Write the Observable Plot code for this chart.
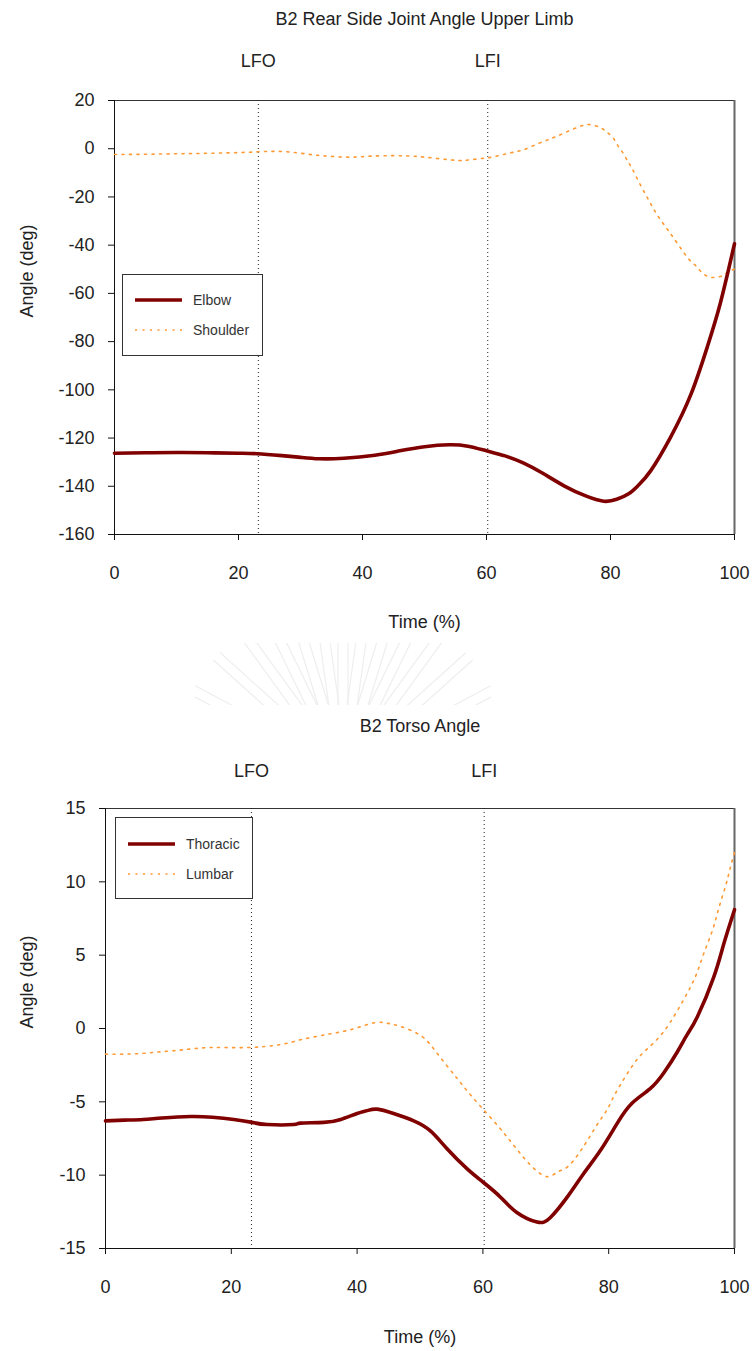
<!DOCTYPE html>
<html>
<head>
<meta charset="utf-8">
<script src="https://cdn.jsdelivr.net/npm/d3@7"></script>
<script src="https://cdn.jsdelivr.net/npm/@observablehq/plot@0.6"></script>
<style>
  html, body { margin: 0; padding: 0; background: #fff; }
  body { position: relative; width: 752px; }
  .panel { position: relative; width: 752px; }
  .legend { position: absolute; box-sizing: border-box; border: 1px solid #333; background: #fff; }
  .legend svg { display: block; overflow: visible; }
  #crest { position: absolute; left: 0; top: 0; z-index: 2; pointer-events: none; }
</style>
</head>
<body>
<div id="upper" class="panel"></div>
<div id="torso" class="panel"></div>
<script>
// ---- gait events (percent of cycle) ----
const eventNames = ["LFO", "LFI"];
const eventTimes = [23.2, 60.2];

// ---- axis ticks ----
const timeTicks = [0, 20, 40, 60, 80, 100];
const upperTicks = [20, 0, -20, -40, -60, -80, -100, -120, -140, -160];
const torsoTicks = [15, 10, 5, 0, -5, -10, -15];

// ---- upper limb joint angles (deg) ----
const elbowT   = [0, 5, 10, 15, 20, 23, 27, 30, 33, 37, 42, 46, 50, 54, 57, 60, 63, 66, 69, 72.5, 76, 78.9, 81, 83, 84.5, 86.5, 89.7, 93, 95.6, 97.7, 100];
const elbowDeg = [-126.3, -126.1, -126.0, -126.1, -126.3, -126.5, -127.3, -128.0, -128.6, -128.4, -127.1, -125.3, -123.6, -122.8, -123.4, -125.3, -127.4, -130.4, -134.5, -139.8, -144.0, -146.2, -145.4, -143.0, -139.6, -133.5, -119.6, -101.7, -82.3, -64.2, -39.4];

const shoulderT   = [0, 5, 10, 15, 20, 23, 25.5, 28, 31, 34, 37.6, 40, 43.4, 47.3, 50, 53, 55.5, 57, 59.4, 61, 63.9, 66, 68.4, 70.5, 72.7, 75, 76.7, 78.4, 79.5, 80.5, 81.3, 82.1, 82.8, 83.5, 84.7, 86.1, 87.5, 89.2, 90.9, 92.7, 93.7, 94.6, 95.7, 96.9, 98.1, 99, 100];
const shoulderDeg = [-2.4, -2.3, -2.1, -1.9, -1.6, -1.3, -1.1, -1.3, -2.2, -3.0, -3.5, -3.3, -2.9, -3.0, -3.5, -4.3, -4.9, -4.7, -4.0, -3.4, -1.7, -0.4, 2.2, 4.3, 6.7, 9.2, 10.0, 8.7, 6.7, 4.2, 0.8, -2.1, -5.3, -8.3, -14.4, -21.0, -27.3, -33.5, -39.7, -46.0, -48.4, -51.0, -53.0, -53.4, -52.6, -51.0, -50.0];

// ---- torso angles (deg) ----
const thoracicT   = [0, 3, 6, 9, 13.5, 17, 20.4, 23.3, 25.7, 29.9, 31, 34.7, 37.4, 40, 41.6, 43.2, 45.8, 49, 51.7, 54.3, 57.5, 60.1, 62.8, 65.4, 68.6, 70.7, 73.4, 76, 78.7, 81.3, 83.7, 86.6, 88.8, 90.9, 92.5, 94.1, 96.7, 98.3, 100];
const thoracicDeg = [-6.3, -6.25, -6.2, -6.1, -6.0, -6.05, -6.2, -6.4, -6.55, -6.55, -6.45, -6.4, -6.2, -5.8, -5.6, -5.5, -5.8, -6.3, -7.0, -8.2, -9.57, -10.5, -11.5, -12.55, -13.2, -12.9, -11.5, -9.9, -8.3, -6.5, -5.1, -4.1, -3.0, -1.6, -0.4, 0.8, 3.5, 5.77, 8.1];

const lumbarT   = [0, 4.5, 8.5, 12.4, 16.7, 22.5, 27.8, 31, 35.8, 39.5, 42.7, 44.8, 46.9, 50.1, 52.2, 54.1, 55.9, 57.5, 59.6, 62.5, 64.4, 66.1, 68, 70.2, 71.8, 73.4, 75.2, 76.8, 78.4, 79.8, 81.1, 84, 86.1, 88, 89.8, 91.9, 93.8, 95.1, 96.5, 97.5, 98.6, 99.3, 100];
const lumbarDeg = [-1.75, -1.73, -1.6, -1.45, -1.3, -1.3, -1.1, -0.77, -0.36, -0.02, 0.39, 0.36, 0.14, -0.48, -1.4, -2.45, -3.4, -4.25, -5.3, -6.7, -7.7, -8.6, -9.5, -10.1, -9.8, -9.45, -8.55, -7.5, -6.4, -5.5, -4.4, -2.4, -1.4, -0.6, 0.43, 1.95, 3.55, 5.1, 6.7, 8.2, 9.75, 10.9, 12.0];

const FONT = "'Liberation Sans', Arial, sans-serif";
const SOLID = { stroke: "#800000", strokeWidth: 3.6 };
const DOTTED = { stroke: "#FF9933", strokeWidth: 1.6, strokeDasharray: "2,5.5" };

const rows = (ts, vs) => ts.map((t, i) => ({ t, v: vs[i] }));

function anglePlot(o) {
  const [lo, hi] = o.yDomain;
  return Plot.plot({
    width: 752,
    height: o.height,
    marginTop: o.marginTop,
    marginRight: 18,
    marginBottom: o.marginBottom,
    marginLeft: o.marginLeft,
    style: { fontFamily: FONT, fontSize: "18px", color: "#222", background: "#fff", overflow: "visible" },
    x: { domain: [0, 100] },
    y: { domain: [lo, hi] },
    marks: [
      // plot border: dark top edge, grey right edge
      Plot.ruleY([hi], { stroke: "#333", strokeWidth: 1 }),
      Plot.ruleX([100], { stroke: "#666", strokeWidth: 2 }),
      // gait event markers
      Plot.ruleX(eventTimes, { stroke: "#222", strokeWidth: 1, strokeDasharray: "1,3" }),
      Plot.axisX({ ticks: timeTicks, tickSize: 6, tickPadding: 26, tickFormat: d => String(d), label: null, stroke: "#111" }),
      Plot.axisY({ ticks: o.yTicks, tickSize: 6, tickPadding: 14, tickFormat: d => String(d), label: null, stroke: "#111" }),
      Plot.ruleX([0], { stroke: "#111" }),
      Plot.ruleY([lo], { stroke: "#111" }),
      // series
      Plot.line(o.dotted, { x: "t", y: "v", curve: "natural", ...DOTTED }),
      Plot.line(o.solid, { x: "t", y: "v", curve: "natural", ...SOLID }),
      // titles and labels
      Plot.text([o.title], { frameAnchor: "top", lineAnchor: "middle", dy: o.titleDy }),
      Plot.text(eventNames, { x: eventTimes, frameAnchor: "top", lineAnchor: "middle", dy: o.eventDy }),
      Plot.text(["Time (%)"], { frameAnchor: "bottom", lineAnchor: "middle", dy: o.xLabelDy }),
      Plot.text(["Angle (deg)"], { frameAnchor: "left", lineAnchor: "middle", dx: o.yLabelDx, rotate: -90 })
    ]
  });
}

function addLegend(host, box, entries) {
  const div = d3.select(host).append("div").attr("class", "legend")
    .style("left", box.left + "px").style("top", box.top + "px")
    .style("width", box.width + "px").style("height", box.height + "px");
  const svg = div.append("svg").attr("width", box.width - 2).attr("height", box.height - 2);
  entries.forEach((e, i) => {
    const y = box.firstRow + i * 30;
    svg.append("line").attr("x1", 12).attr("x2", 59).attr("y1", y).attr("y2", y)
      .attr("stroke", e.style.stroke).attr("stroke-width", e.style.strokeWidth)
      .attr("stroke-dasharray", e.style.strokeDasharray || null);
    svg.append("text").attr("x", 70).attr("y", y).attr("dy", "0.35em")
      .attr("font-family", FONT).attr("font-size", 14).attr("fill", "#333").text(e.name);
  });
}

// ---- upper limb panel ----
const upper = document.getElementById("upper");
upper.style.height = "645px";
upper.append(anglePlot({
  title: "B2 Rear Side Joint Angle Upper Limb",
  height: 645, marginTop: 100, marginBottom: 111, marginLeft: 114,
  yDomain: [-160, 20], yTicks: upperTicks,
  solid: rows(elbowT, elbowDeg), dotted: rows(shoulderT, shoulderDeg),
  titleDy: -81, eventDy: -39, xLabelDy: 88, yLabelDx: -87
}));
addLegend(upper, { left: 122, top: 274, width: 141, height: 82, firstRow: 25 },
  [{ name: "Elbow", style: SOLID }, { name: "Shoulder", style: DOTTED }]);

// ---- torso panel ----
const torso = document.getElementById("torso");
torso.style.height = "706px";
torso.append(anglePlot({
  title: "B2 Torso Angle",
  height: 706, marginTop: 163, marginBottom: 103, marginLeft: 105,
  yDomain: [-15, 15], yTicks: torsoTicks,
  solid: rows(thoracicT, thoracicDeg), dotted: rows(lumbarT, lumbarDeg),
  titleDy: -82, eventDy: -37, xLabelDy: 89, yLabelDx: -78
}));
addLegend(torso, { left: 115, top: 817 - 645, width: 138, height: 82, firstRow: 26 },
  [{ name: "Thoracic", style: SOLID }, { name: "Lumbar", style: DOTTED }]);

// faint university crest in the gap between the panels
const crest = d3.select(document.body).append("svg").attr("id", "crest")
  .attr("width", 752).attr("height", 720);
crest.append("clipPath").attr("id", "crestClip")
  .append("rect").attr("x", 195).attr("y", 643).attr("width", 296).attr("height", 62);
const rays = crest.append("g").attr("clip-path", "url(#crestClip)")
  .attr("fill", "none").attr("stroke", "#eeeeee").attr("stroke-width", 1.2);
[-62, -48, -36, -26, -17, -8, 0, 8, 17, 26, 36, 48, 62].forEach(a => {
  const r = Math.PI / 180 * a;
  [-5, 5].forEach(off => {
    const ox = 343 + off * Math.cos(r), oy = 770 + off * Math.sin(r);
    rays.append("line").attr("x1", ox).attr("y1", oy)
      .attr("x2", ox + 170 * Math.sin(r)).attr("y2", oy - 170 * Math.cos(r));
  });
});
</script>
</body>
</html>
